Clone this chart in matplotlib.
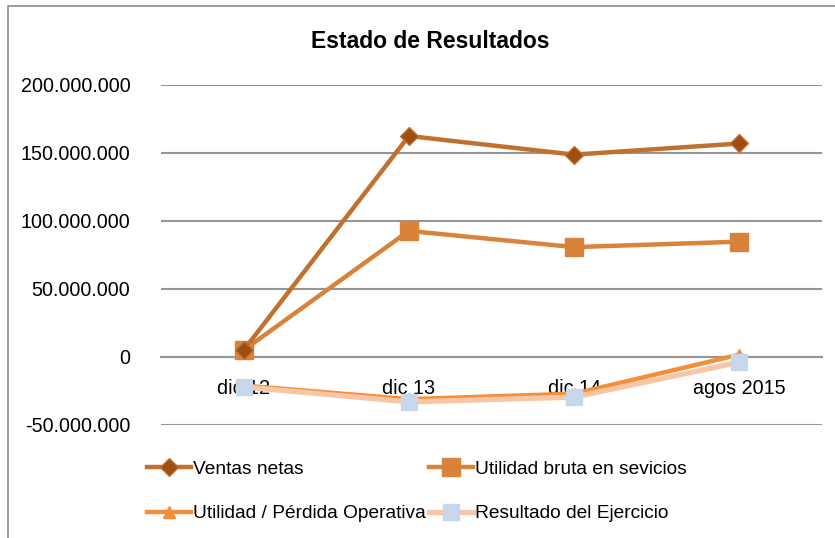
import matplotlib
matplotlib.use("Agg")
import matplotlib.pyplot as plt
from matplotlib.patches import Rectangle
from matplotlib.ticker import FuncFormatter

# datos
periodos = ["dic 12", "dic 13", "dic 14", "agos 2015"]
ventas_netas = [5000000, 162500000, 148800000, 157000000]
utilidad_bruta = [5000000, 92700000, 80800000, 84800000]
utilidad_operativa = [-21000000, -31000000, -27000000, 1800000]
resultado_ejercicio = [-22000000, -33000000, -29500000, -3800000]

nombres = ["Ventas netas", "Utilidad bruta en sevicios",
           "Utilidad / Pérdida Operativa", "Resultado del Ejercicio"]

plt.rcParams["font.family"] = ["Liberation Sans", "DejaVu Sans"]

fig = plt.figure(figsize=(8.35, 5.38), dpi=100)
ax = fig.add_axes([161 / 835, 1 - 425 / 538, (822 - 161) / 835, (425 - 85) / 538])

x = list(range(len(periodos)))
l1, = ax.plot(x, ventas_netas, color="#C0702F", lw=3.2, marker="D", ms=9,
              mfc="#A04E10", mec="#C0702F", label=nombres[0], zorder=5)
l2, = ax.plot(x, utilidad_bruta, color="#D9823A", lw=3.2, marker="s", ms=13,
              mfc="#D9823A", mec="#D9823A", label=nombres[1], zorder=4)
l3, = ax.plot(x, utilidad_operativa, color="#F68D38", lw=3.2, marker="^", ms=9,
              mfc="#F68D38", mec="#F68D38", label=nombres[2], zorder=3)
l4, = ax.plot(x, resultado_ejercicio, color="#F7C6A7", lw=3.8, marker="s", ms=12,
              mfc="#C8D6EC", mec="#C8D6EC", label=nombres[3], zorder=6)

ax.set_xlim(-0.5, len(periodos) - 0.5)
ax.set_ylim(-50000000, 200000000)
ax.set_yticks(range(-50000000, 200000001, 50000000))
ax.yaxis.set_major_formatter(FuncFormatter(lambda v, p: f"{int(v):,}".replace(",", ".")))
ax.grid(axis="y", color="#969696", lw=1.5)
ax.set_axisbelow(True)

ax.set_xticks(x)
ax.set_xticklabels(periodos)
for lado in ["top", "left", "right"]:
    ax.spines[lado].set_visible(False)
ax.spines["bottom"].set_position(("data", 0))
ax.spines["bottom"].set_color("#969696")
ax.spines["bottom"].set_linewidth(1.5)
ax.tick_params(axis="both", length=0, labelsize=14.2, colors="black")
ax.tick_params(axis="y", pad=22)
ax.tick_params(axis="x", pad=16)

fig.text(430 / 835, 1 - 42 / 538, "Estado de Resultados", ha="center", va="center",
         fontsize=16.5, fontweight="bold")

# orden por filas como en el original
fig.legend([l1, l3, l2, l4], [nombres[0], nombres[2], nombres[1], nombres[3]],
           loc="upper left", bbox_to_anchor=(139 / 835, 1 - 453 / 538), ncol=2,
           frameon=False, fontsize=13.8, handlelength=2.3, handletextpad=0.1,
           columnspacing=0.2, labelspacing=1.4, borderaxespad=0)

fig.patches.append(Rectangle((8 / 835, -0.1), 1.1, 1 - 6 / 538 + 0.1,
                             transform=fig.transFigure, fill=False,
                             edgecolor="#8C8C8C", lw=1.2))

fig.savefig("out.png", dpi=100)
